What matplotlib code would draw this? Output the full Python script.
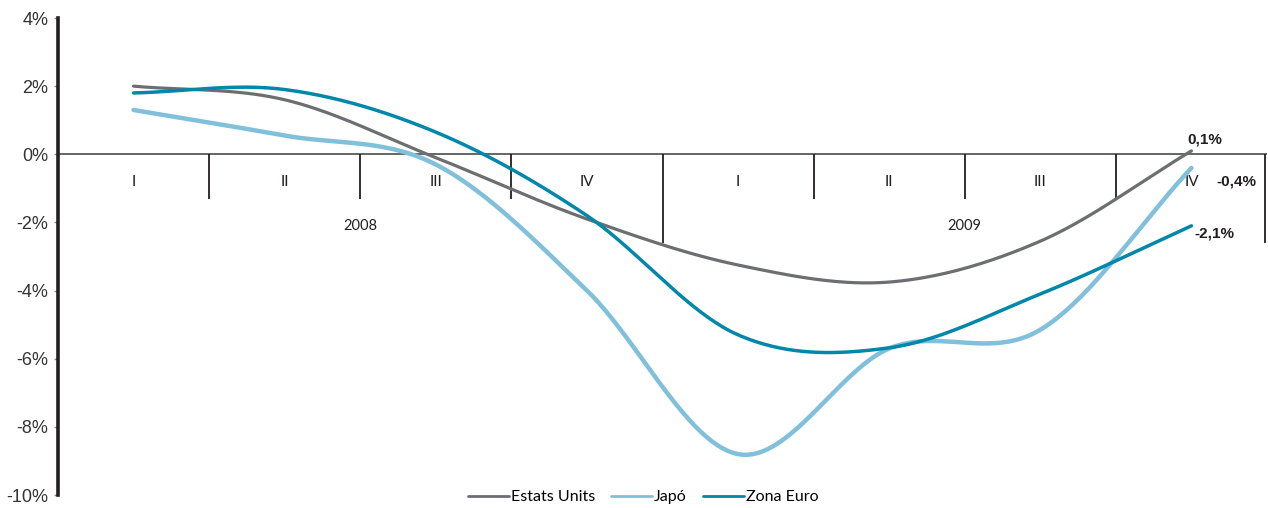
import matplotlib
matplotlib.use('Agg')
import matplotlib.pyplot as plt
import numpy as np

# quarterly values (%), 2008 Q1 .. 2009 Q4
quarters = ['I', 'II', 'III', 'IV', 'I', 'II', 'III', 'IV']
years = ['2008', '2009']
estats_units = [2.0, 1.6, -0.1, -1.9, -3.25, -3.75, -2.55, 0.1]
japo = [1.3, 0.55, -0.3, -4.0, -8.8, -5.7, -5.15, -0.4]
zona_euro = [1.8, 1.9, 0.65, -1.8, -5.3, -5.68, -4.1, -2.1]
end_labels = ['0,1%', '-0,4%', '-2,1%']

col_us = '#6d6e71'
col_jp = '#80c0da'
col_eu = '#0087a9'


def smooth(y, n=40):
    # Catmull-Rom spline through the points, like a "smoothed line" chart
    y = np.asarray(y, dtype=float)
    p = np.concatenate([[2 * y[0] - y[1]], y, [2 * y[-1] - y[-2]]])
    xs, ys = [], []
    t = np.linspace(0, 1, n, endpoint=False)
    for i in range(len(y) - 1):
        p0, p1, p2, p3 = p[i], p[i + 1], p[i + 2], p[i + 3]
        m1 = (p2 - p0) / 2
        m2 = (p3 - p1) / 2
        h00 = 2 * t**3 - 3 * t**2 + 1
        h10 = t**3 - 2 * t**2 + t
        h01 = -2 * t**3 + 3 * t**2
        h11 = t**3 - t**2
        xs.append(i + t)
        ys.append(h00 * p1 + h10 * m1 + h01 * p2 + h11 * m2)
    xs.append([len(y) - 1])
    ys.append([y[-1]])
    return np.concatenate(xs), np.concatenate(ys)


fig = plt.figure(figsize=(12.68, 5.08), dpi=100)
ax = fig.add_axes([58 / 1268, 13 / 508, 1209 / 1268, 477 / 508])
ax.set_xlim(-0.5, 7.5)
ax.set_ylim(-10, 4)

# category axis structure
ax.axhline(0, color='#58595b', lw=1.3, zorder=1)
ax.vlines([0.5, 1.5, 2.5, 4.5, 5.5, 6.5], -1.32, 0, color='#231f20', lw=1.3)
ax.vlines([3.5, 7.49], -2.6, 0, color='#231f20', lw=1.3)
for i, q in enumerate(quarters):
    ax.text(i, -0.8, q, ha='center', va='center', fontsize=11,
            family='Lato', color='#231f20')
for k, yr in enumerate(years):
    ax.text(1.5 + 4 * k, -2.1, yr, ha='center', va='center', fontsize=10.5,
            family='Lato', color='#231f20')

x, y = smooth(japo)
ax.plot(x, y, color=col_jp, lw=3.2, solid_capstyle='round', label='Japó', zorder=3)
x, y = smooth(estats_units)
ax.plot(x, y, color=col_us, lw=2.3, solid_capstyle='round', label='Estats Units', zorder=4)
x, y = smooth(zona_euro)
ax.plot(x, y, color=col_eu, lw=2.5, solid_capstyle='round', label='Zona Euro', zorder=5)

lab_kw = dict(fontsize=11, fontweight='bold', family='Liberation Sans', color='#231f20')
ax.text(7.09, estats_units[-1] + 0.33, end_labels[0], ha='center', va='center', **lab_kw)
ax.text(7.3, -0.8, end_labels[1], ha='center', va='center', **lab_kw)
ax.text(7.02, zona_euro[-1] - 0.22, end_labels[2], ha='left', va='center', **lab_kw)

for s in ['top', 'right', 'bottom']:
    ax.spines[s].set_visible(False)
ax.spines['left'].set_linewidth(2.6)
ax.spines['left'].set_color('#231f20')
ax.set_xticks([])
ax.set_yticks(np.arange(-10, 5, 2))
ax.set_yticklabels(['%d%%' % v for v in range(-10, 5, 2)])
ax.tick_params(axis='y', length=3, width=1, color='#888888', pad=4,
               labelsize=13, labelcolor='#333333')
for lbl in ax.get_yticklabels():
    lbl.set_family('Liberation Sans')

handles, labels = ax.get_legend_handles_labels()
order = [1, 0, 2]
fig.legend([handles[i] for i in order], [labels[i] for i in order],
           loc='center', bbox_to_anchor=(643 / 1268, 1 - 497 / 508), ncol=3,
           frameon=False, handlelength=2.6, handletextpad=0.1,
           columnspacing=1.0, prop={'family': 'Lato', 'size': 11.5})
for h in fig.legends[0].get_lines():
    h.set_linewidth(2)

fig.savefig('out.png', dpi=100)
